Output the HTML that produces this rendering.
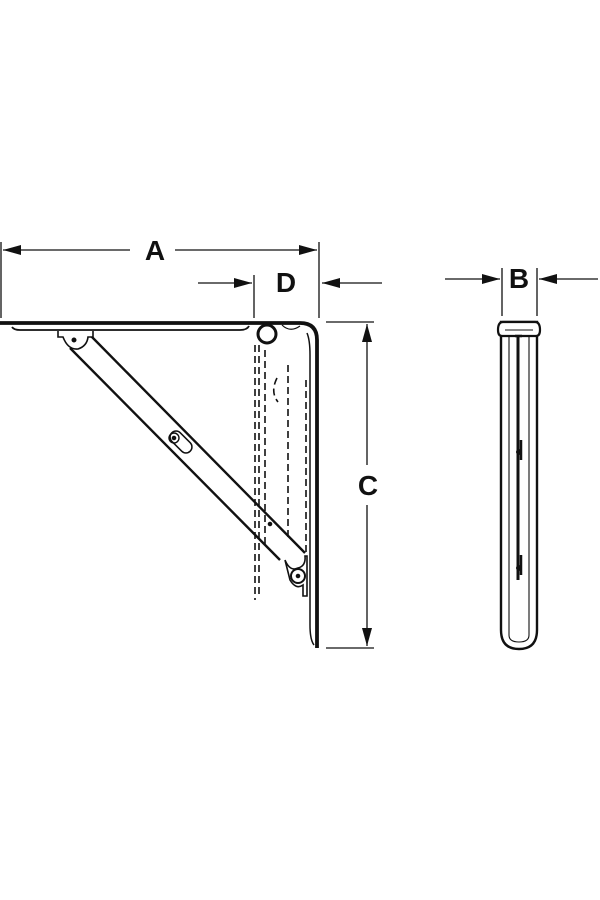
<!DOCTYPE html>
<html><head><style>body{margin:0;background:#fff}svg{display:block}</style></head><body>
<svg width="600" height="900" viewBox="0 0 600 900" xmlns="http://www.w3.org/2000/svg">
<defs><marker id="ar" markerWidth="18" markerHeight="10" refX="18" refY="5" orient="auto" markerUnits="userSpaceOnUse"><path d="M0,0 L18,5 L0,10 Z" fill="#111"/></marker></defs>
<g stroke="#111" fill="none" stroke-width="1.3">
<line x1="1" y1="242" x2="1" y2="318"/><line x1="319" y1="242" x2="319" y2="318"/>
<line x1="130" y1="250" x2="3" y2="250" marker-end="url(#ar)"/>
<line x1="175" y1="250" x2="317" y2="250" marker-end="url(#ar)"/>
<line x1="254" y1="275" x2="254" y2="318"/>
<line x1="198" y1="283" x2="252" y2="283" marker-end="url(#ar)"/>
<line x1="382" y1="283" x2="322" y2="283" marker-end="url(#ar)"/>
<line x1="326" y1="322" x2="374" y2="322"/><line x1="326" y1="648" x2="374" y2="648"/>
<line x1="367" y1="465" x2="367" y2="324" marker-end="url(#ar)"/>
<line x1="367" y1="505" x2="367" y2="646" marker-end="url(#ar)"/>
<line x1="502" y1="268" x2="502" y2="316"/><line x1="537" y1="268" x2="537" y2="316"/>
<line x1="445" y1="279" x2="500" y2="279" marker-end="url(#ar)"/>
<line x1="598" y1="279" x2="539" y2="279" marker-end="url(#ar)"/>
</g>
<g font-family="Liberation Sans, sans-serif" font-weight="bold" font-size="28" fill="#111" text-anchor="middle">
<text x="155" y="260">A</text><text x="286" y="292">D</text><text x="368" y="495">C</text><text x="519" y="288">B</text>
</g>
<g stroke="#111" fill="none">
<path d="M0,323 L300,323 Q317,323 317,340 L317,648" stroke-width="3.8"/>
<path d="M12,327 Q14,330 20,330 L240,330 Q247,330 249,326" stroke-width="1.8"/>
<path d="M307,333 Q310,340 310,355 L310,625 Q310,640 314,645" stroke-width="1.5"/>
<circle cx="267" cy="334" r="9" stroke-width="3"/>
<path d="M282,325 Q290,333 300,326" stroke-width="1.2"/>
<g stroke-width="1.6" stroke-dasharray="7,4">
<line x1="255" y1="345" x2="255" y2="600"/><line x1="259" y1="345" x2="259" y2="598"/>
<line x1="265" y1="350" x2="265" y2="545"/><line x1="288" y1="365" x2="288" y2="540"/>
<line x1="306" y1="380" x2="306" y2="555"/>
<path d="M277,378 Q270,392 278,402"/>
</g>
<g stroke-width="2.4">
<line x1="90" y1="335" x2="305" y2="553"/>
<line x1="70" y1="348" x2="280" y2="560"/>
</g>
<path d="M58,331 L58,337 L63,337 Q68,350 78,349 Q87,346 88,337 L93,337 L93,331" stroke-width="1.6" fill="#fff"/>
<circle cx="74" cy="340" r="2" fill="#111"/>
<rect x="168" y="436" width="26" height="12" rx="6" transform="rotate(45 181 442)" stroke-width="1.5"/>
<circle cx="174" cy="438" r="5" stroke-width="1.4"/><circle cx="174" cy="438" r="1.8" fill="#111"/>
<path d="M285,560 Q290,572 298,568 Q306,566 305,556 L307,556 L307,596 L303,596 L303,585 Q296,590 290,580 Q288,572 285,560" stroke-width="1.6" fill="#fff"/>
<circle cx="298" cy="576" r="7" stroke-width="2" fill="#fff"/><circle cx="298" cy="576" r="1.8" fill="#111"/>
<circle cx="270" cy="524" r="1.8" fill="#111"/>
<path d="M501,322 L537,322 L537,630 Q537,649 519,649 Q501,649 501,630 Z" stroke-width="2.4"/>
<path d="M509,336 L529,336 L529,635 Q529,642 519,642 Q509,642 509,635 Z" stroke-width="1.1"/>
<path d="M498,330 Q498,322 503,322 L535,322 Q540,322 540,330 Q540,336 536,336 L502,336 Q498,336 498,330 Z" stroke-width="2.2" fill="#fff"/>
<path d="M505,330 L533,330" stroke-width="1"/>
<path d="M518,336 L518,580" stroke-width="3"/>
<circle cx="519" cy="452" r="3" fill="#111" stroke="none"/><circle cx="519" cy="568" r="3" fill="#111" stroke="none"/>
<path d="M515,336 L522,336 M521,440 L521,460 M521,555 L521,575" stroke-width="2.5"/>
</g>
</svg>
</body></html>
